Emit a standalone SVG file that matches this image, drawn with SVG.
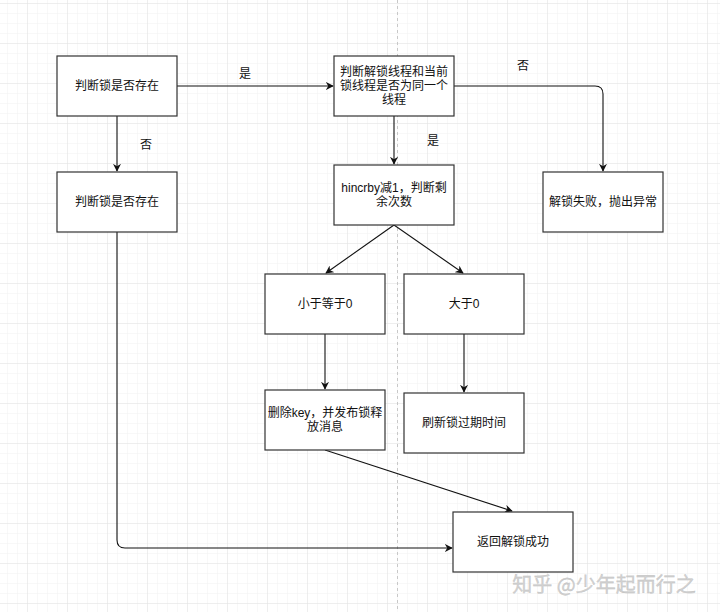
<svg xmlns="http://www.w3.org/2000/svg" width="720" height="612" viewBox="0 0 720 612">
<style>
.box{fill:#fff;stroke:#333;stroke-width:1.2}
.t{font-family:"Liberation Sans","Noto Sans CJK SC",sans-serif;font-size:12px;fill:#111;text-anchor:middle;dominant-baseline:central}
.edge{fill:none;stroke:#111;stroke-width:1.1}
.lbl{font-family:"Liberation Sans","Noto Sans CJK SC",sans-serif;font-size:12px;fill:#111;text-anchor:middle;dominant-baseline:central}
</style>
<defs>
<pattern id="minor" x="7" y="3" width="10" height="10" patternUnits="userSpaceOnUse">
<path d="M0,0 H10 M0,0 V10" fill="none" stroke="#f1f1f1" stroke-width="1"/>
</pattern>
<pattern id="major" x="27" y="3" width="40" height="40" patternUnits="userSpaceOnUse">
<path d="M0,0 H40 M0,0 V40" fill="none" stroke="#e4e4e4" stroke-width="1"/>
</pattern>
<marker id="arr" viewBox="0 0 10 10" refX="9" refY="5" markerWidth="8" markerHeight="8" markerUnits="userSpaceOnUse" orient="auto">
<path d="M0,0 L10,5 L0,10 L3,5 z" fill="#111"/>
</marker>
</defs>
<rect width="720" height="612" fill="#fff"/>
<rect width="720" height="612" fill="url(#minor)"/>
<rect width="720" height="612" fill="url(#major)"/>
<line x1="397.5" y1="0" x2="397.5" y2="612" stroke="#c8c8c8" stroke-width="1" stroke-dasharray="3,3"/>

<g id="connectors">
<path class="edge" d="M177,86 H333" marker-end="url(#arr)"/>
<path class="edge" d="M117,116 V171" marker-end="url(#arr)"/>
<path class="edge" d="M454,86 H595 Q603,86 603,94 V171" marker-end="url(#arr)"/>
<path class="edge" d="M394,116 V164" marker-end="url(#arr)"/>
<path class="edge" d="M394,225 L326,273" marker-end="url(#arr)"/>
<path class="edge" d="M394,225 L463,273" marker-end="url(#arr)"/>
<path class="edge" d="M325,334 V389" marker-end="url(#arr)"/>
<path class="edge" d="M464,334 V392" marker-end="url(#arr)"/>
<path class="edge" d="M325,450 L512,511" marker-end="url(#arr)"/>
<path class="edge" d="M117,232 V540 Q117,548 125,548 H452" marker-end="url(#arr)"/>
<text class="lbl" x="245" y="74">是</text>
<text class="lbl" x="146" y="145">否</text>
<text class="lbl" x="433" y="141">是</text>
<text class="lbl" x="523" y="66">否</text>
</g>

<g id="n1"><rect class="box" x="57" y="56" width="120" height="60"/><text class="t" x="117" y="86">判断锁是否存在</text></g>
<g id="n2"><rect class="box" x="57" y="172" width="120" height="60"/><text class="t" x="117" y="202">判断锁是否存在</text></g>
<g id="n3"><rect class="box" x="334" y="56" width="120" height="60"/><text class="t" x="394" y="72">判断解锁线程和当前</text><text class="t" x="394" y="86">锁线程是否为同一个</text><text class="t" x="394" y="100">线程</text></g>
<g id="n4"><rect class="box" x="334" y="165" width="120" height="60"/><text class="t" x="394" y="188">hincrby减1，判断剩</text><text class="t" x="394" y="202">余次数</text></g>
<g id="n5"><rect class="box" x="543" y="172" width="120" height="60"/><text class="t" x="603" y="202">解锁失败，抛出异常</text></g>
<g id="n6"><rect class="box" x="265" y="274" width="120" height="60"/><text class="t" x="325" y="304">小于等于0</text></g>
<g id="n7"><rect class="box" x="404" y="274" width="120" height="60"/><text class="t" x="464" y="304">大于0</text></g>
<g id="n8"><rect class="box" x="265" y="390" width="120" height="60"/><text class="t" x="325" y="413">删除key，并发布锁释</text><text class="t" x="325" y="427">放消息</text></g>
<g id="n9"><rect class="box" x="404" y="393" width="120" height="60"/><text class="t" x="464" y="423">刷新锁过期时间</text></g>
<g id="n10"><rect class="box" x="453" y="512" width="120" height="60"/><text class="t" x="513" y="542">返回解锁成功</text></g>

<text x="604" y="583" font-family="'Noto Sans CJK SC',sans-serif" font-size="20" fill="#d2d2d2" stroke="#bdbdbd" stroke-width="0.3" text-anchor="middle" dominant-baseline="central">知乎 @少年起而行之</text>
</svg>
